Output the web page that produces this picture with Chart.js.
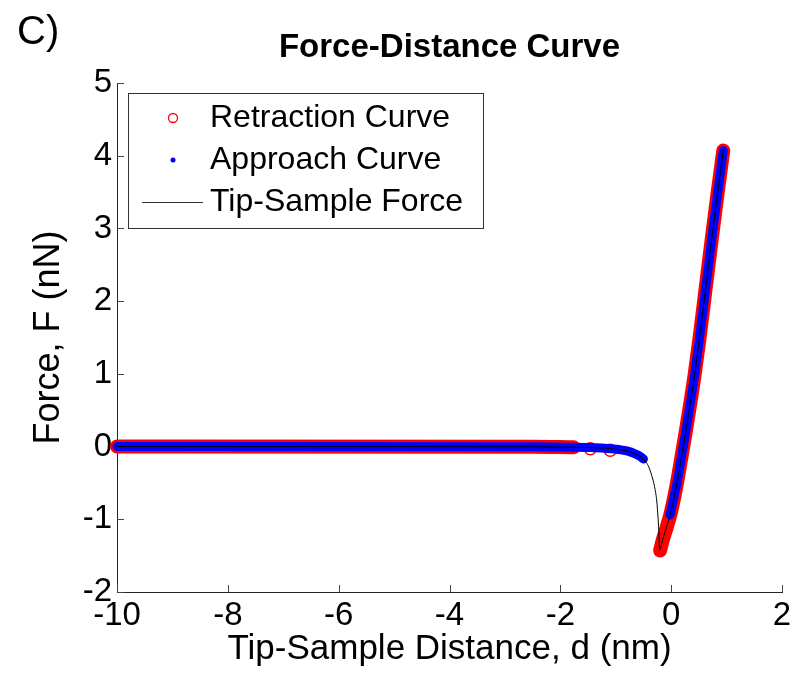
<!DOCTYPE html>
<html>
<head>
<meta charset="utf-8">
<title>Force-Distance Curve</title>
<script src="https://cdn.jsdelivr.net/npm/chart.js@4.4.1/dist/chart.umd.min.js"></script>
<style>
  html, body { margin: 0; padding: 0; background: #fff; }
  #wrap { width: 800px; height: 673px; position: relative; }
</style>
</head>
<body>
<div id="wrap"><canvas id="chart"></canvas></div>
<script>
// axis ticks
const xTicks = [-10, -8, -6, -4, -2, 0, 2]
const yTicks = [-2, -1, 0, 1, 2, 3, 4, 5]

// tip-sample force model, d (nm) / F (nN)
const tipD = [-10, -2.5, -1.8, -1.5, -1.2, -1.0, -0.8, -0.65, -0.55, -0.47, -0.41, -0.35, -0.3, -0.26, -0.235, -0.22, -0.21,
  -0.15, -0.08, 0.0, 0.1, 0.18, 0.26, 0.34, 0.42, 0.51, 0.61, 0.72, 0.83, 0.94]
const tipF = [0, -0.003, -0.008, -0.013, -0.022, -0.035, -0.06, -0.1, -0.14, -0.2, -0.27, -0.4, -0.55, -0.75, -1.0, -1.22, -1.42,
  -1.27, -1.1, -0.88, -0.52, -0.17, 0.19, 0.57, 0.97, 1.48, 2.1, 2.78, 3.44, 4.07]

// approach sweep, null = jump to contact
const approachD = [-10, -2.5, -1.8, -1.5, -1.2, -1.0, -0.8, -0.65, -0.55, -0.5, null,
  -0.02, 0.04, 0.1, 0.18, 0.26, 0.34, 0.42, 0.51, 0.61, 0.72, 0.83, 0.94]
const approachF = [0, -0.003, -0.008, -0.013, -0.022, -0.035, -0.06, -0.1, -0.14, -0.17, null,
  -0.94, -0.73, -0.52, -0.17, 0.19, 0.57, 0.97, 1.48, 2.1, 2.78, 3.44, 4.07]

// retraction sweep, null = pull-off jump
const retractD = [-10, -2.5, -1.76, null, -1.46, null, -1.1, null,
  -0.2, -0.15, -0.08, 0.0, 0.1, 0.18, 0.26, 0.34, 0.42, 0.51, 0.61, 0.72, 0.83, 0.94]
const retractF = [0, -0.003, -0.01, null, -0.03, null, -0.05, null,
  -1.43, -1.28, -1.11, -0.89, -0.52, -0.17, 0.19, 0.57, 0.97, 1.48, 2.1, 2.78, 3.44, 4.07]

const FONT = '"Liberation Sans", Arial, Helvetica, sans-serif'
Chart.defaults.font.family = FONT
Chart.defaults.color = '#000'

const pts = (xs, ys) => xs.map((x, i) => ({ x: x, y: ys[i] }))
const lonely = (arr, i) => arr[i] !== null &&
  (i === 0 || arr[i - 1] === null) && (i === arr.length - 1 || arr[i + 1] === null)

// inward tick marks like matlab
const innerTicks = {
  id: 'innerTicks',
  beforeDatasetsDraw(chart) {
    const { ctx, chartArea: a, scales: { x, y } } = chart
    ctx.save()
    ctx.strokeStyle = '#444'
    ctx.lineWidth = 1
    ctx.beginPath()
    x.ticks.forEach(t => {
      const px = Math.round(x.getPixelForValue(t.value)) + 0.5
      ctx.moveTo(px, a.bottom); ctx.lineTo(px, a.bottom - 7)
    })
    y.ticks.forEach(t => {
      const py = Math.round(y.getPixelForValue(t.value)) + 0.5
      ctx.moveTo(a.left, py); ctx.lineTo(a.left + 7, py)
    })
    ctx.stroke()
    ctx.restore()
  }
}

// boxed legend in the upper left corner, plus the panel letter
const boxLegend = {
  id: 'boxLegend',
  afterDraw(chart) {
    const { ctx, chartArea: a } = chart
    const left = a.left + 11, top = a.top + 10
    ctx.save()
    ctx.fillStyle = '#fff'
    ctx.strokeStyle = '#333'
    ctx.lineWidth = 1
    ctx.fillRect(left, top, 355, 135)
    ctx.strokeRect(left + 0.5, top + 0.5, 355, 135)

    const rows = [top + 25, top + 67, top + 109]
    ctx.font = '32px ' + FONT
    ctx.fillStyle = '#000'
    ctx.textBaseline = 'middle'
    ctx.textAlign = 'left'
    chart.data.datasets.slice().reverse().forEach((ds, i) => {
      ctx.fillText(ds.label, left + 82, rows[i])
    })

    // symbols
    ctx.strokeStyle = '#ff0000'
    ctx.lineWidth = 1.3
    ctx.beginPath()
    ctx.arc(left + 45, rows[0], 4.5, 0, Math.PI * 2)
    ctx.stroke()
    ctx.fillStyle = '#0000ff'
    ctx.beginPath()
    ctx.arc(left + 45, rows[1], 2.5, 0, Math.PI * 2)
    ctx.fill()
    ctx.strokeStyle = '#333'
    ctx.lineWidth = 1
    ctx.beginPath()
    ctx.moveTo(left + 14, rows[2] + 0.5)
    ctx.lineTo(left + 75, rows[2] + 0.5)
    ctx.stroke()

    ctx.font = '40px ' + FONT
    ctx.fillStyle = '#000'
    ctx.textBaseline = 'alphabetic'
    ctx.fillText('C)', 17, 44)
    ctx.restore()
  }
}

new Chart(document.getElementById('chart'), {
  type: 'scatter',
  data: {
    datasets: [
      {
        label: 'Tip-Sample Force',
        data: pts(tipD, tipF),
        showLine: true,
        borderColor: '#000',
        borderWidth: 1,
        pointRadius: 0,
        cubicInterpolationMode: 'monotone',
        clip: false
      },
      {
        label: 'Approach Curve',
        data: pts(approachD, approachF),
        showLine: true,
        borderColor: '#0000ff',
        borderWidth: 9,
        pointRadius: 0,
        cubicInterpolationMode: 'monotone',
        clip: false
      },
      {
        label: 'Retraction Curve',
        data: pts(retractD, retractF),
        showLine: true,
        borderColor: '#ff0000',
        borderWidth: 14,
        pointRadius: c => lonely(retractF, c.dataIndex) ? 6 : 0,
        pointBorderColor: '#ff0000',
        pointBackgroundColor: 'rgba(0,0,0,0)',
        pointBorderWidth: 1.5,
        cubicInterpolationMode: 'monotone',
        clip: false
      }
    ]
  },
  options: {
    responsive: true,
    maintainAspectRatio: false,
    animation: false,
    events: [],
    elements: {
      line: { borderCapStyle: 'round', borderJoinStyle: 'round' }
    },
    layout: { padding: { left: 0, right: 18, top: 0, bottom: 0 } },
    plugins: {
      legend: { display: false },
      tooltip: { enabled: false },
      title: {
        display: true,
        fullSize: false,
        text: 'Force-Distance Curve',
        color: '#000',
        font: { size: 33, weight: 'bold' },
        padding: { top: 28, bottom: 15.4 }
      }
    },
    scales: {
      x: {
        type: 'linear',
        min: -10,
        max: 2,
        afterBuildTicks: s => { s.ticks = xTicks.map(v => ({ value: v })) },
        afterFit: s => { s.height = 81 },
        ticks: { padding: 4, maxRotation: 0, autoSkip: false, font: { size: 33 }, color: '#000' },
        grid: { display: false, drawTicks: false, drawOnChartArea: false },
        border: { display: true, color: '#262626', width: 1 },
        title: {
          display: true,
          text: 'Tip-Sample Distance, d (nm)',
          color: '#000',
          font: { size: 35 },
          padding: { top: 0, bottom: 3 }
        }
      },
      y: {
        type: 'linear',
        min: -2,
        max: 5,
        afterBuildTicks: s => { s.ticks = yTicks.map(v => ({ value: v })) },
        afterFit: s => { s.width = 117 },
        ticks: { padding: 5, font: { size: 33 }, color: '#000' },
        grid: { display: false, drawTicks: false, drawOnChartArea: false },
        border: { display: true, color: '#262626', width: 1 },
        title: {
          display: true,
          text: 'Force, F (nN)',
          color: '#000',
          font: { size: 36 },
          padding: { top: 27, bottom: 0 }
        }
      }
    }
  },
  plugins: [innerTicks, boxLegend]
})
</script>
</body>
</html>
